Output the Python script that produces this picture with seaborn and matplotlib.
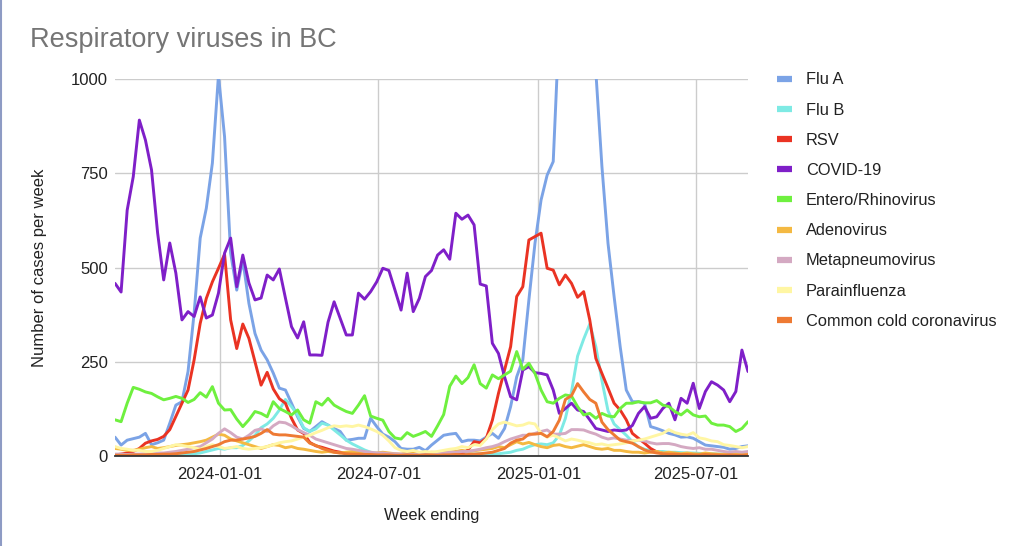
import numpy as np
import pandas as pd
import matplotlib
matplotlib.use("Agg")
import matplotlib.pyplot as plt
import matplotlib.dates as mdates
from matplotlib.lines import Line2D
import seaborn as sns

# ---------------- data ----------------
weeks = pd.date_range("2023-09-02", periods=105, freq="7D")

flu_a = [50, 29, 42, 46, 50, 60, 30, 35, 42, 87, 135, 144, 224, 379, 578, 657, 777, 1010, 847, 538,
         440, 520, 405, 325, 281, 255, 220, 180, 175, 140, 104, 73, 65, 78, 91, 82, 73, 65, 42, 44,
         47, 47, 100, 78, 58, 50, 38, 20, 18, 18, 23, 14, 29, 42, 55, 58, 60, 38, 42, 42,
         40, 50, 60, 47, 73, 131, 210, 255, 414, 564, 679, 745, 781, 1150, 1400, 1600, 1650, 1500, 1250, 1020,
         768, 564, 423, 290, 175, 144, 144, 140, 78, 73, 67, 60, 56, 50, 51, 47, 38, 29, 27, 25,
         23, 18, 20, 25, 27]

flu_b = [0, 0, 0, 0, 1, 1, 1, 2, 2, 3, 3, 4, 5, 6, 8, 12, 16, 20, 18, 22,
         22, 28, 40, 55, 75, 85, 100, 122, 150, 131, 109, 75, 65, 72, 87, 82, 69, 56, 42, 32,
         24, 16, 10, 7, 5, 4, 4, 3, 3, 3, 4, 3, 3, 4, 4, 5, 5, 6, 6, 5,
         6, 5, 5, 6, 8, 10, 15, 18, 25, 30, 32, 30, 35, 55, 100, 170, 265, 310, 350, 290,
         200, 120, 85, 70, 55, 38, 24, 18, 14, 12, 12, 10, 10, 9, 8, 8, 7, 6, 6, 5,
         5, 5, 4, 4, 4]

rsv = [3, 5, 8, 12, 20, 34, 40, 44, 52, 70, 105, 140, 175, 255, 352, 418, 462, 498, 535, 361,
       285, 350, 312, 250, 188, 222, 178, 152, 140, 100, 69, 60, 36, 27, 23, 18, 13, 10, 7, 5,
       3, 2, 3, 2, 2, 3, 2, 2, 1, 2, 2, 3, 2, 3, 4, 3, 5, 6, 16, 38,
       35, 47, 95, 166, 228, 290, 423, 449, 573, 582, 591, 498, 493, 454, 480, 458, 421, 436, 361, 259,
       219, 180, 140, 122, 96, 60, 47, 34, 20, 11, 7, 5, 4, 4, 3, 3, 2, 3, 2, 2,
       3, 2, 2, 3, 2]

covid = [458, 435, 652, 741, 891, 838, 759, 592, 467, 565, 485, 361, 383, 370, 422, 366, 374, 432, 538, 578,
         449, 533, 459, 414, 419, 480, 467, 496, 419, 343, 313, 356, 268, 268, 267, 355, 409, 365, 321, 321,
         432, 416, 436, 462, 498, 492, 440, 387, 485, 383, 418, 476, 492, 533, 547, 522, 644, 628, 639, 613,
         456, 451, 299, 272, 210, 157, 149, 228, 237, 221, 219, 215, 175, 113, 126, 140, 122, 118, 96, 73,
         69, 65, 69, 67, 69, 81, 113, 131, 100, 104, 126, 140, 96, 153, 140, 193, 126, 171, 197, 188,
         175, 144, 171, 281, 224]

entero = [96, 91, 140, 182, 177, 170, 166, 157, 149, 153, 158, 153, 142, 150, 168, 156, 184, 140, 122, 123,
          98, 78, 96, 118, 113, 104, 144, 126, 118, 109, 122, 96, 87, 144, 135, 153, 135, 126, 118, 113,
          135, 160, 106, 100, 95, 65, 48, 45, 62, 52, 58, 65, 52, 80, 110, 185, 212, 192, 208, 242,
          192, 180, 215, 205, 215, 225, 277, 230, 246, 219, 175, 144, 140, 153, 162, 159, 131, 109, 113, 100,
          113, 106, 104, 126, 140, 140, 144, 141, 141, 147, 135, 131, 118, 109, 122, 109, 104, 106, 87, 82,
          82, 78, 65, 73, 91]

adeno = [20, 18, 15, 15, 18, 22, 25, 20, 22, 25, 28, 30, 32, 35, 38, 42, 50, 58, 55, 45,
         40, 35, 30, 25, 20, 25, 30, 28, 22, 25, 20, 18, 15, 12, 10, 12, 10, 8, 10, 12,
         10, 8, 6, 8, 10, 8, 6, 5, 8, 7, 6, 8, 10, 9, 12, 10, 12, 15, 12, 14,
         16, 18, 20, 25, 22, 30, 38, 32, 36, 30, 25, 22, 28, 30, 25, 22, 26, 30, 25, 20,
         18, 20, 15, 15, 12, 10, 10, 8, 10, 12, 8, 10, 8, 6, 8, 6, 5, 8, 6, 5,
         4, 5, 6, 5, 4]

metapneumo = [5, 5, 4, 5, 5, 6, 6, 8, 8, 10, 12, 15, 18, 22, 25, 35, 45, 60, 72, 62,
              50, 45, 55, 68, 72, 65, 80, 90, 88, 80, 70, 62, 55, 45, 40, 35, 30, 25, 20, 18,
              15, 12, 10, 8, 8, 6, 6, 5, 5, 4, 5, 5, 6, 6, 8, 10, 10, 12, 12, 15,
              18, 22, 25, 30, 38, 45, 50, 55, 55, 60, 65, 69, 58, 58, 60, 70, 70, 69, 63, 58,
              50, 45, 48, 45, 42, 40, 42, 40, 35, 32, 33, 33, 30, 25, 22, 20, 22, 18, 18, 15,
              12, 10, 12, 10, 12]

parainfluenza = [25, 20, 18, 15, 15, 12, 12, 15, 20, 25, 30, 28, 25, 22, 18, 25, 30, 25, 20, 22,
                 25, 20, 18, 20, 22, 25, 30, 35, 38, 40, 45, 50, 55, 62, 68, 75, 80, 78, 80, 78,
                 82, 78, 72, 65, 55, 40, 22, 15, 12, 15, 10, 12, 10, 12, 15, 18, 20, 25, 22, 30,
                 28, 45, 70, 85, 90, 85, 80, 82, 88, 85, 60, 50, 55, 48, 40, 45, 42, 38, 35, 30,
                 32, 28, 30, 32, 35, 40, 42, 45, 50, 55, 60, 70, 62, 58, 55, 62, 48, 45, 40, 38,
                 30, 28, 25, 22, 25]

common_cold = [2, 2, 2, 3, 3, 3, 4, 4, 5, 5, 6, 8, 10, 12, 16, 20, 25, 30, 38, 42,
               42, 45, 48, 52, 60, 70, 58, 56, 56, 54, 52, 50, 34, 28, 20, 15, 10, 8, 6, 5,
               5, 4, 4, 3, 3, 3, 2, 2, 3, 2, 2, 3, 3, 2, 3, 3, 4, 3, 4, 5,
               6, 8, 10, 15, 20, 34, 42, 45, 58, 58, 60, 51, 65, 95, 150, 160, 192, 170, 150, 140,
               90, 70, 56, 42, 38, 34, 25, 16, 11, 8, 6, 5, 5, 4, 4, 3, 3, 4, 3, 3,
               2, 3, 2, 2, 3]

virus_names = ["Flu A", "Flu B", "RSV", "COVID-19", "Entero/Rhinovirus", "Adenovirus",
               "Metapneumovirus", "Parainfluenza", "Common cold coronavirus"]
virus_colors = ["#7ba3e6", "#7eeae4", "#ea3323", "#7f1fc8", "#6ff03f", "#f4b942",
                "#d4a9c2", "#fff6a3", "#ee7a33"]
y_ticks = [0, 250, 500, 750, 1000]
x_ticks = ["2024-01-01", "2024-07-01", "2025-01-01", "2025-07-01"]

series = [flu_a, flu_b, rsv, covid, entero, adeno, metapneumo, parainfluenza, common_cold]
long = pd.concat(
    [pd.DataFrame({"week": weeks, "cases": vals, "virus": name})
     for name, vals in zip(virus_names, series)],
    ignore_index=True,
)

# ---------------- style ----------------
sns.set_style("white")
plt.rcParams["font.family"] = ["Liberation Sans", "DejaVu Sans"]

W, H = 1024, 546
fig = plt.figure(figsize=(W / 100, H / 100), dpi=100)
L, R, T, B = 115, 748, 79, 456
ax = fig.add_axes([L / W, 1 - B / H, (R - L) / W, (B - T) / H])

sns.lineplot(data=long, x="week", y="cases", hue="virus", hue_order=virus_names,
             palette=virus_colors, linewidth=2.1, estimator=None, sort=False,
             legend=False, ax=ax)

ax.set_ylim(0, 1000)
ax.set_xlim(weeks[0], weeks[-1])
ax.set_yticks(y_ticks)
ax.set_yticklabels([str(v) for v in y_ticks])
ax.set_xticks(pd.to_datetime(x_ticks))
ax.xaxis.set_major_formatter(mdates.DateFormatter("%Y-%m-%d"))
ax.grid(True, color="#cccccc", linewidth=1.0)
ax.set_axisbelow(True)
for s in ["top", "right", "left"]:
    ax.spines[s].set_visible(False)
ax.spines["bottom"].set_color("#333333")
ax.spines["bottom"].set_linewidth(1.3)
ax.spines["bottom"].set_zorder(5)
ax.tick_params(axis="both", length=0, labelsize=12, colors="#222222")
ax.tick_params(axis="x", pad=8)
ax.tick_params(axis="y", pad=5)

ax.set_xlabel("Week ending", fontsize=11.8, color="#222222")
ax.set_ylabel("Number of cases per week", fontsize=12, color="#222222")
ax.xaxis.set_label_coords(0.5, -(508 - B) / (B - T))
ax.yaxis.set_label_coords(-(L - 47) / (R - L), 0.5)

fig.text(30 / W, 1 - 40 / H, "Respiratory viruses in BC", fontsize=19.5,
         color="#757575", va="center", ha="left")

handles = [Line2D([0], [0], color=c, lw=4.5, solid_capstyle="butt") for c in virus_colors]
fig.legend(handles, virus_names, loc="upper left",
           bbox_to_anchor=(777 / W, 1 - 72.5 / H), frameon=False, fontsize=11.8,
           handlelength=0.92, handletextpad=0.85, labelspacing=0.925,
           borderpad=0, borderaxespad=0, labelcolor="#222222")

fig.add_artist(Line2D([0.001, 0.001], [0, 1], transform=fig.transFigure,
                      color="#8e9bc4", lw=1.5))

fig.savefig("out.png", dpi=100)
